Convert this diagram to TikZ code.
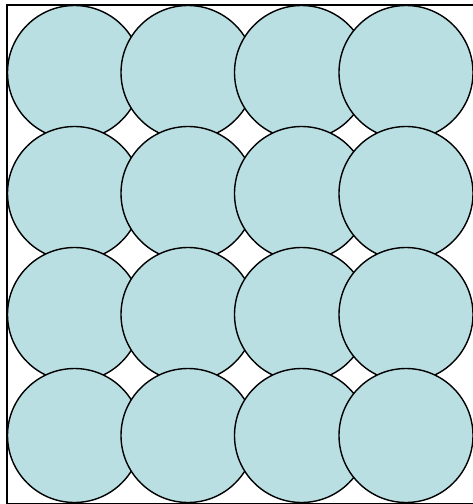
\documentclass[tikz,border=0pt]{standalone}
\usepackage{tikz}
\definecolor{ball}{RGB}{185,223,227}

\begin{document}
\begin{tikzpicture}[x=1pt, y=-1pt, every node/.style={circle,draw,fill=ball,line width=1.4pt,minimum size=134pt,inner sep=0pt}]
  \useasboundingbox (0,0) rectangle (472,504);
  \draw[line width=1.4pt] (7,5) rectangle (480,503.5);
  \foreach \r/\y in {1/72.5,2/193.5,3/314.5,4/435.5}
    \foreach \c/\x in {1/74.5,2/188,3/301.5,4/406}
      \node (c\r\c) at (\x,\y) {};
\end{tikzpicture}
\end{document}
